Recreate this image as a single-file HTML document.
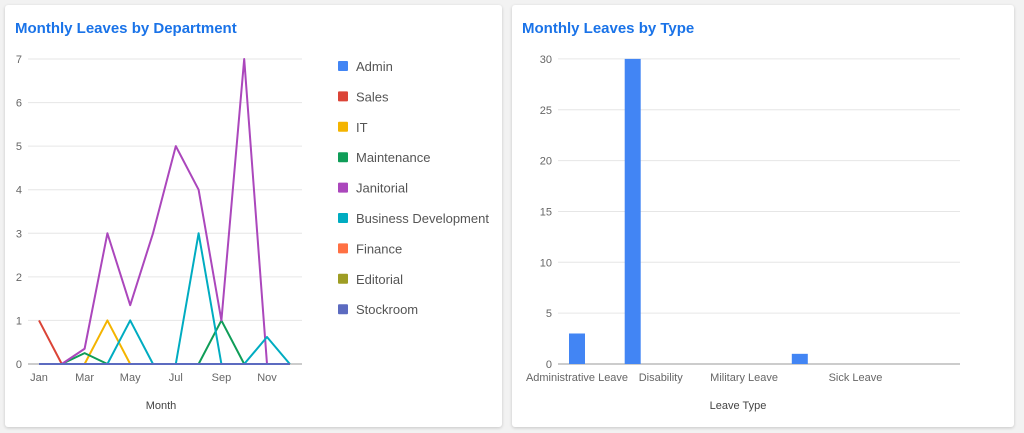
<!DOCTYPE html>
<html><head><meta charset="utf-8"><style>
body{margin:0;width:1024px;height:433px;background:#f2f2f2;font-family:"Liberation Sans",sans-serif;overflow:hidden;position:relative}
.card{position:absolute;top:5px;height:422px;background:#fff;border-radius:3px;box-shadow:0 1px 3px rgba(0,0,0,.18)}
.title{position:absolute;left:10px;top:15px;font-size:15px;font-weight:bold;color:#1a73e8}
svg{position:absolute;left:0;top:0}
text{font-family:"Liberation Sans",sans-serif}
</style></head><body>
<div class="card" style="left:5px;width:497px">
<div class="title">Monthly Leaves by Department</div>
</div>
<div class="card" style="left:512px;width:502px">
<div class="title">Monthly Leaves by Type</div>
</div>
<svg id="chart" width="1024" height="433"></svg>
<script>
const months=["Jan","Feb","Mar","Apr","May","Jun","Jul","Aug","Sep","Oct","Nov","Dec"];
const seriesNames=["Admin","Sales","IT","Maintenance","Janitorial","Business Development","Finance","Editorial","Stockroom"];
const seriesColors=["#4285f4","#db4437","#f4b400","#0f9d58","#ab47bc","#00acc1","#ff7043","#9e9d24","#5c6bc0"];
const admin=[0,0,0,0,0,0,0,0,0,0,0,0];
const sales=[1,0,0,0,0,0,0,0,0,0,0,0];
const it=[0,0,0,1,0,0,0,0,0,0,0,0];
const maintenance=[0,0,0.25,0,0,0,0,0,1,0,0,0];
const janitorial=[0,0,0.35,3,1.35,3,5,4,1,7,0,null];
const bizdev=[0,0,0,0,1,0,0,3,0,0,0.62,0];
const finance=[0,0,0,0,0,0,0,0,0,0,0,0];
const editorial=[0,0,0,0,0,0,0,0,0,0,0,0];
const stockroom=[0,0,0,0,0,0,0,0,0,0,0,0];
const lineTicks=[0,1,2,3,4,5,6,7];
const leaveTypes=["Administrative Leave","Disability","Family Leave","Military Leave","Personal Leave","Sick Leave","Vacation"];
const leaveValues=[3,30,0,0,1,0,0];
const barTicks=[0,5,10,15,20,25,30];

const svg=document.getElementById('chart');
const NS='http://www.w3.org/2000/svg';
function mk(tag,attrs,txt){const e=document.createElementNS(NS,tag);for(const k in attrs)e.setAttribute(k,attrs[k]);if(txt!==undefined)e.textContent=txt;svg.appendChild(e);return e;}

// line chart axes
const lx=i=>39+i*22.8, ly=v=>364-v*43.57;
lineTicks.forEach(t=>{
 const g=mk('line',{x1:28,x2:302,y1:ly(t),y2:ly(t),stroke:t===0?'#999':'#e6e6e6','stroke-width':1});
 
 
 const tx=mk('text',{x:22,y:ly(t)+4,'text-anchor':'end','font-size':11,fill:'#666'},t);
 
 
});
months.forEach((m,i)=>{if(i%2)return;
 const tx=mk('text',{x:lx(i),y:381,'text-anchor':'middle','font-size':11,fill:'#666'},m);
 
 
});
const xt=mk('text',{x:161,y:409,'text-anchor':'middle','font-size':11,fill:'#444'},'Month');


const allSeries=[admin,sales,it,maintenance,janitorial,bizdev,finance,editorial,stockroom];
allSeries.forEach((s,k)=>{
 let d='',pen=false;
 s.forEach((v,i)=>{if(v===null){pen=false;return;}d+=(pen?'L':'M')+lx(i)+','+ly(v)+' ';pen=true;});
 const p=mk('path',{d:d,fill:'none',stroke:seriesColors[k],'stroke-width':2,'stroke-linejoin':'round'});
 
 
});
seriesNames.forEach((n,k)=>{
 const y=66+k*30.4;
 const r=mk('rect',{x:338,y:y-5,width:10,height:10,rx:1,fill:seriesColors[k]});
 
 
 const t=mk('text',{x:356,y:y+5,'font-size':13,fill:'#555'},n);
 
 
});

// bar chart
const bx=i=>577+i*55.7, by=v=>364-v*10.17;
barTicks.forEach(t=>{
 const g=mk('line',{x1:558,x2:960,y1:by(t),y2:by(t),stroke:t===0?'#999':'#e6e6e6','stroke-width':1});
 
 
 const tx=mk('text',{x:552,y:by(t)+4,'text-anchor':'end','font-size':11,fill:'#666'},t);
 
 
});
leaveValues.forEach((v,i)=>{
 if(!v)return;
 const r=mk('rect',{x:bx(i)-8,y:by(v),width:16,height:364-by(v),fill:'#4285f4'});
 
 
});
const shown=[[0,0],[1,28],[3,0],[5,0]];
shown.forEach(([i,off])=>{
 const tx=mk('text',{x:bx(i)+off,y:381,'text-anchor':'middle','font-size':11,fill:'#666'},leaveTypes[i]);
 
 
});
const bt=mk('text',{x:738,y:409,'text-anchor':'middle','font-size':11,fill:'#444'},'Leave Type');


</script>
</body></html>
